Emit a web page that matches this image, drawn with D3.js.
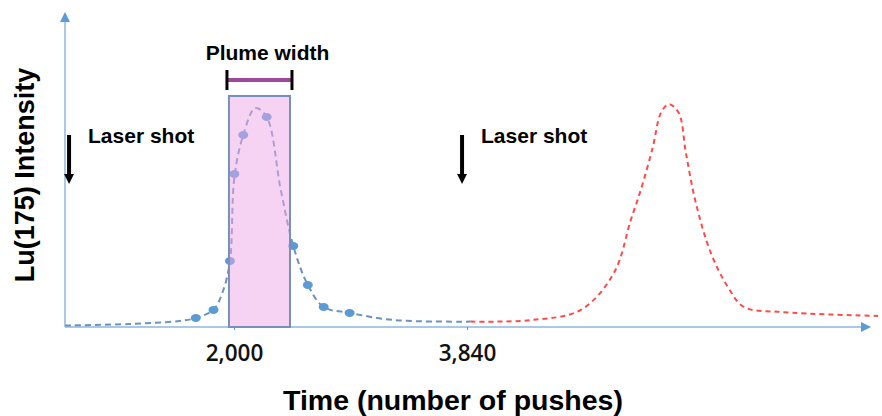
<!DOCTYPE html>
<html>
<head>
<meta charset="utf-8">
<script src="https://cdn.jsdelivr.net/npm/d3@7"></script>
<style>
  body { margin: 0; background: #fff; }
  svg { display: block; font-family: "Liberation Sans", Arial, sans-serif; }
</style>
</head>
<body>
<svg id="chart" width="882" height="416"></svg>
<script>
// measured plume (blue) - time in pushes, intensity in arbitrary units
const plumeTime = [665, 1168, 1568, 1698, 1838, 1913, 1968, 2003, 2073, 2168, 2258, 2368, 2468, 2583, 2708, 2913, 3268, 3868];
const plumeInt  = [0.5, 1.0, 2.0, 3.0, 5.8, 12, 22, 50, 64, 73, 70, 46, 27, 14, 6.7, 4.7, 2.3, 1.8];

// sampled points on the plume
const dotTime = [1698, 1838, 1968, 2003, 2073, 2258, 2468, 2583, 2708, 2913];
const dotInt  = [3.0, 5.7, 22, 51, 64, 70, 27, 14, 6.7, 4.7];

// next plume (red)
const nextTime = [3868, 4344, 4739, 5000, 5134, 5213, 5308, 5371, 5434, 5513, 5569, 5648, 5766, 5901, 6027, 6320, 7087];
const nextInt  = [1.8, 2.3, 5.7, 18, 35.7, 45.7, 60, 71.3, 74.3, 71.3, 58, 41.3, 24.7, 13.3, 6.7, 5.0, 3.7];

const tickValues = [2000, 3840];
const laserShots = [697, 3801];   // time of each laser shot arrow
const plumeWindow = [1960, 2442]; // plume width window
const plumeTop = 77;

const svg = d3.select('#chart');
const x = d3.scaleLinear().domain([665, 6960]).range([65, 862]);
const y = d3.scaleLinear().domain([0, 100]).range([327, 27]);

const defs = svg.append('defs');
defs.append('marker')
  .attr('id', 'axisArrow')
  .attr('viewBox', '0 0 10 10')
  .attr('refX', 5).attr('refY', 5)
  .attr('markerWidth', 5).attr('markerHeight', 5)
  .attr('markerUnits', 'strokeWidth')
  .attr('orient', 'auto')
  .append('path').attr('d', 'M0,0L10,5L0,10Z').attr('fill', '#5b9bd5');
defs.append('marker')
  .attr('id', 'blackArrow')
  .attr('viewBox', '0 0 10 10')
  .attr('refX', 5).attr('refY', 5)
  .attr('markerWidth', 3).attr('markerHeight', 2.5)
  .attr('markerUnits', 'strokeWidth')
  .attr('orient', 'auto')
  .append('path').attr('d', 'M0,0L10,5L0,10Z').attr('fill', '#000');

// axes
svg.append('line')
  .attr('x1', x.range()[0]).attr('y1', y(0)).attr('x2', 866).attr('y2', y(0))
  .attr('stroke', '#a9c8ea').attr('stroke-width', 2)
  .attr('marker-end', 'url(#axisArrow)');
svg.append('line')
  .attr('x1', x.range()[0]).attr('y1', y(0)).attr('x2', x.range()[0]).attr('y2', 17)
  .attr('stroke', '#a9c8ea').attr('stroke-width', 2)
  .attr('marker-end', 'url(#axisArrow)');

const xAxis = svg.append('g')
  .attr('transform', `translate(0,${y(0)})`)
  .call(d3.axisBottom(x).tickValues(tickValues).tickFormat(d3.format(',')).tickSize(3).tickPadding(15));
xAxis.select('.domain').remove();
xAxis.selectAll('.tick line').attr('stroke', '#5b9bd5');
xAxis.selectAll('.tick text')
  .attr('fill', '#111').attr('font-size', 22.5).attr('font-weight', 600)
  .attr('font-family', '"Open Sans", sans-serif');

// curves
const line = d3.line()
  .x(d => x(d[0])).y(d => y(d[1]))
  .curve(d3.curveCatmullRom.alpha(0.5));

svg.append('path')
  .datum(plumeTime.map((t, i) => [t, plumeInt[i]]))
  .attr('d', line)
  .attr('fill', 'none').attr('stroke', '#6a93c4')
  .attr('stroke-width', 2).attr('stroke-dasharray', '6,4');

svg.append('path')
  .datum(nextTime.map((t, i) => [t, nextInt[i]]))
  .attr('d', line)
  .attr('fill', 'none').attr('stroke', '#ff4a4a')
  .attr('stroke-width', 2).attr('stroke-dasharray', '5,4');

svg.selectAll('.dot')
  .data(dotTime.map((t, i) => [t, dotInt[i]]))
  .join('ellipse')
  .attr('class', 'dot')
  .attr('cx', d => x(d[0])).attr('cy', d => y(d[1]))
  .attr('rx', 5).attr('ry', 4)
  .attr('fill', '#5b9bd5');

// plume window
svg.append('rect')
  .attr('x', x(plumeWindow[0])).attr('y', y(plumeTop))
  .attr('width', x(plumeWindow[1]) - x(plumeWindow[0]))
  .attr('height', y(0) - y(plumeTop))
  .attr('fill', '#f0a8e8').attr('fill-opacity', 0.5)
  .attr('stroke', '#7591b8').attr('stroke-width', 2);

// plume width bracket
const bx0 = x(plumeWindow[0]) - 2, bx1 = x(plumeWindow[1]) + 2, by = 80;
svg.append('line')
  .attr('x1', bx0).attr('x2', bx1).attr('y1', by).attr('y2', by)
  .attr('stroke', '#a0489a').attr('stroke-width', 4);
[bx0, bx1].forEach(bx => {
  svg.append('line')
    .attr('x1', bx).attr('x2', bx).attr('y1', by - 10).attr('y2', by + 10)
    .attr('stroke', '#000').attr('stroke-width', 3);
});
svg.append('text')
  .attr('x', (bx0 + bx1) / 2 + 8).attr('y', 60)
  .attr('text-anchor', 'middle')
  .attr('font-size', 21).attr('font-weight', 'bold')
  .text('Plume width');

// laser shots
laserShots.forEach(t => {
  const ax = x(t);
  svg.append('line')
    .attr('x1', ax).attr('x2', ax).attr('y1', 135).attr('y2', 179)
    .attr('stroke', '#000').attr('stroke-width', 4)
    .attr('marker-end', 'url(#blackArrow)');
  svg.append('text')
    .attr('x', ax + 19).attr('y', 143)
    .attr('font-size', 21).attr('font-weight', 'bold')
    .text('Laser shot');
});

// axis titles
svg.append('text')
  .attr('transform', 'translate(34,175) rotate(-90)')
  .attr('text-anchor', 'middle')
  .attr('font-size', 27).attr('font-weight', 'bold')
  .text('Lu(175) Intensity');
svg.append('text')
  .attr('x', 453).attr('y', 410)
  .attr('text-anchor', 'middle')
  .attr('font-size', 28.5).attr('font-weight', 'bold')
  .text('Time (number of pushes)');
</script>
</body>
</html>
